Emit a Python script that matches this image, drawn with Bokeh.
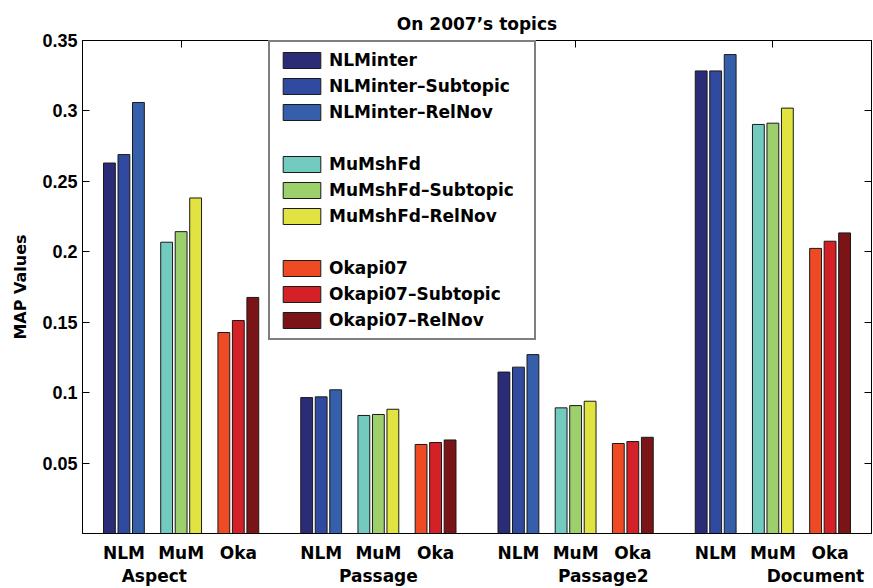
from bokeh.plotting import figure
from bokeh.models import (Range1d, LinearAxis, FixedTicker, Legend, LegendItem,
                          ColumnDataSource, CustomJSTickFormatter)
from bokeh.embed import file_html
from bokeh.resources import INLINE

# ---- data -------------------------------------------------------------
groups = ["Aspect", "Passage", "Passage2", "Document"]
methods = ["NLM", "MuM", "Oka"]
series_names = [
    "NLMinter", "NLMinter–Subtopic", "NLMinter–RelNov",
    "MuMshFd", "MuMshFd–Subtopic", "MuMshFd–RelNov",
    "Okapi07", "Okapi07–Subtopic", "Okapi07–RelNov",
]
nlminter = [0.263, 0.0965, 0.1146, 0.3284]
nlminter_subtopic = [0.269, 0.097, 0.1181, 0.3284]
nlminter_relnov = [0.306, 0.102, 0.127, 0.340]
mumshfd = [0.2068, 0.0838, 0.0892, 0.2904]
mumshfd_subtopic = [0.2143, 0.0845, 0.0908, 0.2913]
mumshfd_relnov = [0.2382, 0.0882, 0.0939, 0.302]
okapi07 = [0.1427, 0.0632, 0.0639, 0.2024]
okapi07_subtopic = [0.1512, 0.0646, 0.0653, 0.2075]
okapi07_relnov = [0.1676, 0.0664, 0.0683, 0.2134]
y_ticks = [0.05, 0.1, 0.15, 0.2, 0.25, 0.3, 0.35]

series_values = [nlminter, nlminter_subtopic, nlminter_relnov,
                 mumshfd, mumshfd_subtopic, mumshfd_relnov,
                 okapi07, okapi07_subtopic, okapi07_relnov]

# ---- style / layout ---------------------------------------------------
colors = ["#2a2c78", "#304aa0", "#365fab",
          "#73cbc0", "#9dcf6d", "#e1e340",
          "#ee4a23", "#d42027", "#7b1416"]
SUB_STEP = 0.29      # distance between method clusters inside a group
BAR_STEP = 0.0735    # distance between bars inside a cluster
BAR_W = 0.06
group_label_offsets = [-0.136, 0.0, 0.14, 0.216]
TEXT_FONT = "DejaVu Sans"
NUM_FONT = "Liberation Sans"

p = figure(width=873, height=588, output_backend="svg", toolbar_location=None,
           x_range=Range1d(0.5, 4.5), y_range=Range1d(0, 0.35),
           x_axis_location=None, y_axis_location=None,
           min_border_left=82, min_border_right=2,
           min_border_top=40, min_border_bottom=51)
p.grid.visible = False
p.outline_line_color = "black"
p.outline_line_width = 1
p.background_fill_color = "white"
p.border_fill_color = "white"

p.title.text = "On 2007’s topics"
p.title.align = "center"
p.title.text_font = TEXT_FONT
p.title.text_font_style = "bold"
p.title.text_font_size = "17px"
p.title.text_color = "black"
p.title.standoff = 13

# bars
renderers = []
for i, vals in enumerate(series_values):
    m, k = divmod(i, 3)
    xs = [round(g + 1 + (m - 1) * SUB_STEP + (k - 1) * BAR_STEP, 4)
          for g in range(len(groups))]
    src = ColumnDataSource(dict(x=xs, top=vals))
    r = p.vbar(x="x", top="top", width=BAR_W, bottom=0, source=src,
               fill_color=colors[i], line_color="#1a1a1a", line_width=1)
    renderers.append(r)

# axes
def blank_axis(ticks, **kw):
    ax = LinearAxis(ticker=FixedTicker(ticks=ticks),
                    formatter=CustomJSTickFormatter(code="return ''"),
                    major_tick_in=7, major_tick_out=0, minor_tick_in=0,
                    minor_tick_out=0, major_label_standoff=0,
                    axis_line_color="black", major_tick_line_color="black",
                    **kw)
    return ax

left = LinearAxis(ticker=FixedTicker(ticks=y_ticks), axis_label="MAP Values",
                  major_tick_in=7, major_tick_out=0, minor_tick_in=0,
                  minor_tick_out=0, major_label_standoff=5,
                  axis_label_standoff=9,
                  axis_line_color="black", major_tick_line_color="black",
                  major_label_text_font=NUM_FONT,
                  major_label_text_font_style="bold",
                  major_label_text_font_size="18px",
                  major_label_text_color="black",
                  axis_label_text_font=TEXT_FONT,
                  axis_label_text_font_style="bold",
                  axis_label_text_font_size="16px",
                  axis_label_text_color="black")
p.add_layout(left, "left")
p.add_layout(blank_axis(y_ticks), "right")
p.add_layout(blank_axis([1, 2, 3, 4]), "above")

method_x = []
method_labels = {}
for g in range(len(groups)):
    for m, name in enumerate(methods):
        x = round(g + 1 + (m - 1) * SUB_STEP, 4)
        method_x.append(x)
        method_labels[x] = name
bottom1 = LinearAxis(ticker=FixedTicker(ticks=method_x),
                     major_label_overrides=method_labels,
                     major_tick_in=0, major_tick_out=0, minor_tick_in=0,
                     minor_tick_out=0, major_label_standoff=9,
                     axis_line_color="black",
                     major_label_text_font=TEXT_FONT,
                     major_label_text_font_style="bold",
                     major_label_text_font_size="17px",
                     major_label_text_color="black")
p.add_layout(bottom1, "below")

group_x = [round(g + 1 + off, 4) for g, off in enumerate(group_label_offsets)]
bottom2 = LinearAxis(ticker=FixedTicker(ticks=group_x),
                     major_label_overrides={x: n for x, n in zip(group_x, groups)},
                     major_tick_in=0, major_tick_out=0, minor_tick_in=0,
                     minor_tick_out=0, major_label_standoff=0,
                     axis_line_color=None,
                     major_label_text_font=TEXT_FONT,
                     major_label_text_font_style="bold",
                     major_label_text_font_size="17px",
                     major_label_text_color="black")
p.add_layout(bottom2, "below")

# legend, with an empty row between the method families
spacer_src = ColumnDataSource(dict(x=[], top=[]))
items = []
for m in range(3):
    for k in range(3):
        i = m * 3 + k
        items.append(LegendItem(label=series_names[i], renderers=[renderers[i]]))
    if m < 2:
        spacer = p.vbar(x="x", top="top", width=BAR_W, source=spacer_src,
                        fill_alpha=0, line_alpha=0)
        items.append(LegendItem(label=" ", renderers=[spacer]))

legend = Legend(items=items, location=(186, 193),
                glyph_width=47, glyph_height=20, label_height=20,
                label_width=197, label_standoff=4, spacing=6, padding=8,
                margin=0,
                label_text_font=TEXT_FONT, label_text_font_style="bold",
                label_text_font_size="17px", label_text_color="black",
                border_line_color="black", border_line_width=2,
                background_fill_color="white", background_fill_alpha=1)
p.add_layout(legend, "center")

open("out.html", "w").write(file_html(p, INLINE))
